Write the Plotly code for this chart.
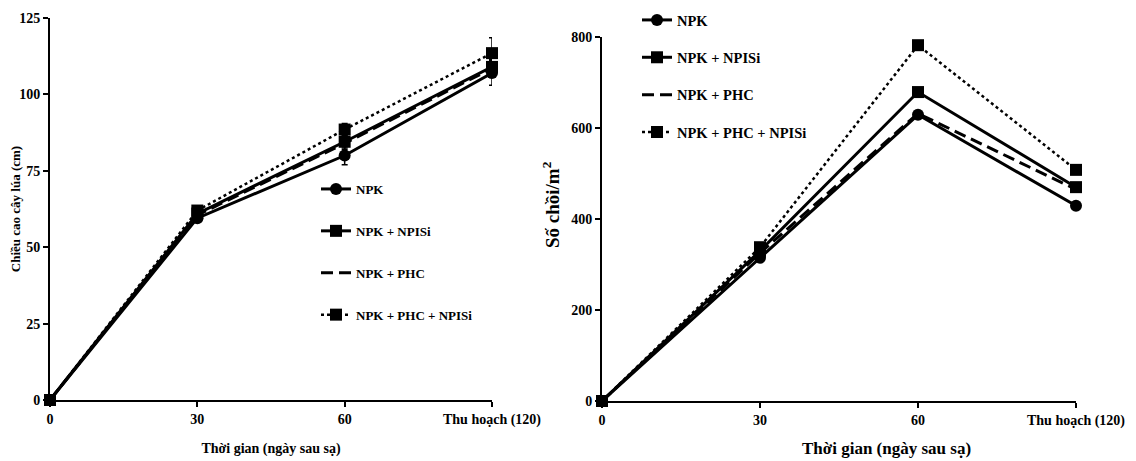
import plotly.graph_objects as go

# ---- data ----
x_cats = ["0", "30", "60", "Thu hoạch (120)"]
series_names = ["NPK", "NPK + NPISi", "NPK + PHC", "NPK + PHC + NPISi"]

height_npk = [0, 59.5, 80, 107]
height_npisi = [0, 61, 84.5, 109]
height_phc = [0, 60.5, 84, 108.5]
height_phc_npisi = [0, 62, 88.5, 113.5]
height_err_npk = [0, 0.8, 3, 4]
height_err_npisi = [0, 0.8, 2, 3]
height_err_phc = [0, 0.8, 2, 3]
height_err_phc_npisi = [0, 0.8, 2, 5]

tiller_npk = [0, 315, 629, 429]
tiller_npisi = [0, 330, 679, 470]
tiller_phc = [0, 325, 632, 465]
tiller_phc_npisi = [0, 338, 782, 508]

FONT = "'Liberation Serif', 'Times New Roman', serif"
styles = [
    dict(dash="solid", symbol="circle", mode="lines+markers"),
    dict(dash="solid", symbol="square", mode="lines+markers"),
    dict(dash="12px,6px", symbol="square", mode="lines"),
    dict(dash="dot", symbol="square", mode="lines+markers"),
]

# page offset (body margin) compensation
OFF = 8
W, H = 1136 - OFF, 461 - OFF


def fx(px):
    return (px - OFF) / W


def fy(py):
    return 1 - (py - OFF) / H


fig = go.Figure()

left_vals = [height_npk, height_npisi, height_phc, height_phc_npisi]
left_errs = [height_err_npk, height_err_npisi, height_err_phc, height_err_phc_npisi]
for i, (name, vals, err) in enumerate(zip(series_names, left_vals, left_errs)):
    st = styles[i]
    fig.add_trace(go.Scatter(
        x=x_cats, y=vals, name=name, mode=st["mode"],
        line=dict(color="black", width=3 if st["dash"] != "dot" else 2.5, dash=st["dash"]),
        marker=dict(symbol=st["symbol"], size=12, color="black"),
        error_y=dict(type="data", array=err, visible=True, color="black", thickness=1.5, width=3),
        cliponaxis=False, xaxis="x", yaxis="y", legend="legend",
        legendgroup="L%d" % i,
    ))

right_vals = [tiller_npk, tiller_npisi, tiller_phc, tiller_phc_npisi]
for i, (name, vals) in enumerate(zip(series_names, right_vals)):
    st = styles[i]
    fig.add_trace(go.Scatter(
        x=x_cats, y=vals, name=name, mode=st["mode"],
        line=dict(color="black", width=3 if st["dash"] != "dot" else 2.5, dash=st["dash"]),
        marker=dict(symbol=st["symbol"], size=12, color="black"),
        cliponaxis=False, xaxis="x2", yaxis="y2", legend="legend2",
        legendgroup="R%d" % i,
    ))

axis_common = dict(
    showline=True, linecolor="black", linewidth=2, ticks="outside", ticklen=5,
    tickwidth=2, tickcolor="black", showgrid=False, zeroline=False,
    automargin=False,
    tickfont=dict(family=FONT, size=14, color="black", weight="bold"),
)

fig.update_layout(
    width=W, height=H,
    margin=dict(l=0, r=0, t=0, b=0, autoexpand=False),
    paper_bgcolor="white", plot_bgcolor="white",
    font=dict(family=FONT, size=13, color="black"),
    xaxis=dict(axis_common, domain=[fx(50), fx(492)], type="category",
               range=[0, 3], anchor="y",
               title=dict(text="<b>Thời gian (ngày sau sạ)</b>", standoff=16,
                          font=dict(family=FONT, size=14))),
    yaxis=dict(axis_common, domain=[fy(400), fy(18)], range=[0, 125],
               tickvals=[0, 25, 50, 75, 100, 125], anchor="x",
               title=dict(text="<b>Chiều cao cây lúa (cm)</b>", standoff=4,
                          font=dict(family=FONT, size=13))),
    xaxis2=dict(axis_common, domain=[fx(602), fx(1076)], type="category",
                range=[0, 3], anchor="y2"),
    yaxis2=dict(axis_common, domain=[fy(401), fy(37)], range=[0, 800],
                tickvals=[0, 200, 400, 600, 800], anchor="x2"),
    legend=dict(x=fx(316), y=fy(174), xanchor="left", yanchor="top",
                bgcolor="rgba(0,0,0,0)", tracegroupgap=22,
                font=dict(family=FONT, size=13, weight="bold")),
    legend2=dict(x=fx(637), y=fy(4), xanchor="left", yanchor="top",
                 bgcolor="rgba(0,0,0,0)", tracegroupgap=15.5,
                 font=dict(family=FONT, size=14.5, weight="bold")),
    showlegend=True,
    annotations=[
        dict(text="<b>Thời gian (ngày sau sạ)</b>", xref="paper", yref="paper",
             x=fx(886), y=fy(448), xanchor="center", yanchor="middle",
             showarrow=False, font=dict(family=FONT, size=17)),
        dict(text="<b>Số chồi/m<sup>2</sup></b>", xref="paper", yref="paper",
             x=fx(551), y=fy(205), xanchor="center", yanchor="middle",
             textangle=-90, showarrow=False, font=dict(family=FONT, size=19)),
    ],
)

fig.write_html("out.html")
